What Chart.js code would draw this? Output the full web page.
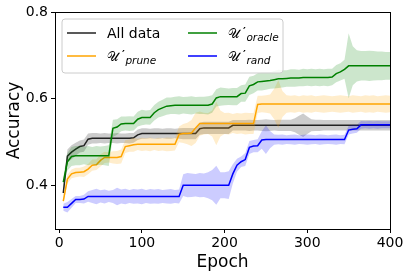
<!DOCTYPE html>
<html>
<head>
<meta charset="utf-8">
<script src="https://cdn.jsdelivr.net/npm/chart.js@4.4.1/dist/chart.umd.min.js"></script>
<style>
  html, body { margin: 0; padding: 0; background: #fff; }
</style>
</head>
<body>
<canvas id="acc" width="410" height="277"></canvas>
<script>
const epochs = [5,10,15,20,25,30,35,40,45,50,55,60,65,70,75,80,85,90,95,100,
  105,110,115,120,125,130,135,140,145,150,155,160,165,170,175,180,185,190,195,200,
  205,210,215,220,225,230,235,240,245,250,255,260,265,270,275,280,285,290,295,300,
  305,310,315,320,325,330,335,340,345,350,355,360,365,370,375,380,385,390,395,400];

const allData = [0.383,0.468,0.477,0.484,0.490,0.492,0.507,0.509,0.509,0.509,0.509,0.509,0.509,0.509,0.509,0.509,0.509,0.510,0.517,0.520,
  0.520,0.520,0.520,0.520,0.520,0.520,0.520,0.520,0.520,0.520,0.520,0.520,0.520,0.531,0.533,0.533,0.533,0.533,0.533,0.533,
  0.533,0.539,0.539,0.539,0.539,0.539,0.539,0.539,0.539,0.539,0.539,0.539,0.539,0.539,0.539,0.539,0.539,0.539,0.539,0.539,
  0.539,0.539,0.539,0.539,0.539,0.539,0.539,0.539,0.539,0.539,0.539,0.539,0.539,0.539,0.539,0.539,0.539,0.539,0.539,0.539];
const allDataStd = [0.010,0.015,0.016,0.015,0.014,0.014,0.013,0.012,0.012,0.011,0.012,0.011,0.011,0.012,0.011,0.011,0.012,0.011,0.012,0.012,
  0.012,0.011,0.012,0.012,0.011,0.012,0.012,0.011,0.012,0.013,0.013,0.013,0.013,0.014,0.014,0.014,0.014,0.014,0.014,0.014,
  0.014,0.012,0.012,0.012,0.012,0.013,0.012,0.012,0.013,0.014,0.013,0.012,0.013,0.013,0.013,0.013,0.016,0.022,0.027,0.020,
  0.014,0.013,0.013,0.012,0.012,0.012,0.012,0.012,0.012,0.012,0.012,0.012,0.012,0.012,0.012,0.012,0.012,0.012,0.012,0.012];

const prune = [0.364,0.415,0.427,0.430,0.431,0.432,0.438,0.447,0.448,0.458,0.465,0.465,0.465,0.465,0.467,0.490,0.492,0.494,0.495,0.495,
  0.495,0.495,0.495,0.495,0.495,0.495,0.495,0.495,0.518,0.520,0.520,0.521,0.533,0.543,0.543,0.543,0.543,0.543,0.543,0.543,
  0.543,0.543,0.543,0.543,0.543,0.543,0.543,0.587,0.588,0.588,0.588,0.588,0.588,0.588,0.588,0.588,0.588,0.588,0.588,0.588,
  0.588,0.588,0.588,0.588,0.588,0.588,0.588,0.588,0.588,0.588,0.588,0.588,0.588,0.588,0.588,0.588,0.588,0.588,0.588,0.588];
const pruneStd = [0.006,0.010,0.010,0.011,0.010,0.012,0.012,0.013,0.012,0.014,0.013,0.012,0.014,0.015,0.016,0.015,0.014,0.016,0.013,0.015,
  0.014,0.016,0.013,0.015,0.014,0.016,0.015,0.014,0.018,0.022,0.025,0.030,0.035,0.028,0.025,0.024,0.030,0.050,0.030,0.024,
  0.025,0.022,0.024,0.023,0.025,0.024,0.024,0.020,0.019,0.020,0.022,0.035,0.055,0.030,0.020,0.019,0.020,0.018,0.020,0.019,
  0.020,0.018,0.019,0.020,0.019,0.018,0.019,0.020,0.019,0.018,0.020,0.019,0.018,0.020,0.019,0.020,0.018,0.019,0.020,0.019];

const oracle = [0.408,0.455,0.467,0.469,0.469,0.469,0.469,0.469,0.469,0.469,0.469,0.469,0.532,0.535,0.542,0.543,0.543,0.543,0.553,0.557,
  0.557,0.557,0.568,0.575,0.579,0.583,0.584,0.585,0.585,0.585,0.585,0.585,0.585,0.585,0.585,0.585,0.588,0.602,0.605,0.605,
  0.605,0.605,0.605,0.612,0.613,0.630,0.633,0.639,0.640,0.641,0.642,0.644,0.646,0.646,0.647,0.648,0.648,0.648,0.649,0.649,
  0.649,0.649,0.649,0.649,0.649,0.650,0.658,0.662,0.668,0.676,0.676,0.676,0.676,0.676,0.676,0.676,0.676,0.676,0.676,0.676];
const oracleStd = [0.012,0.020,0.022,0.022,0.022,0.020,0.022,0.020,0.022,0.021,0.022,0.024,0.020,0.018,0.017,0.016,0.017,0.016,0.017,0.018,
  0.016,0.017,0.018,0.018,0.019,0.020,0.019,0.020,0.021,0.019,0.020,0.021,0.019,0.020,0.020,0.021,0.020,0.020,0.021,0.020,
  0.019,0.020,0.020,0.019,0.020,0.021,0.020,0.020,0.021,0.020,0.019,0.020,0.021,0.020,0.019,0.020,0.020,0.019,0.020,0.019,
  0.020,0.019,0.020,0.019,0.020,0.019,0.020,0.020,0.022,0.075,0.045,0.036,0.034,0.034,0.035,0.034,0.033,0.033,0.032,0.032];

const rand = [0.350,0.350,0.359,0.368,0.368,0.369,0.375,0.375,0.375,0.375,0.375,0.375,0.375,0.375,0.375,0.375,0.375,0.375,0.375,0.375,
  0.375,0.375,0.375,0.375,0.375,0.375,0.375,0.375,0.375,0.401,0.401,0.401,0.401,0.401,0.401,0.401,0.401,0.401,0.401,0.401,
  0.401,0.427,0.447,0.455,0.460,0.488,0.491,0.492,0.505,0.506,0.506,0.506,0.506,0.506,0.506,0.506,0.506,0.506,0.506,0.506,
  0.506,0.506,0.506,0.506,0.506,0.506,0.506,0.506,0.506,0.528,0.530,0.531,0.540,0.540,0.540,0.540,0.540,0.540,0.540,0.540];
const randStd = [0.008,0.012,0.010,0.008,0.008,0.010,0.012,0.015,0.018,0.014,0.016,0.013,0.015,0.020,0.016,0.018,0.015,0.017,0.016,0.018,
  0.015,0.017,0.016,0.017,0.015,0.016,0.017,0.015,0.016,0.025,0.028,0.027,0.026,0.028,0.027,0.030,0.035,0.045,0.030,0.030,
  0.032,0.022,0.015,0.012,0.015,0.015,0.014,0.015,0.020,0.033,0.020,0.012,0.011,0.012,0.010,0.011,0.012,0.010,0.011,0.012,
  0.011,0.010,0.012,0.011,0.010,0.011,0.012,0.010,0.011,0.010,0.010,0.009,0.009,0.008,0.009,0.008,0.009,0.008,0.008,0.008];

const xTicks = [0, 100, 200, 300, 400];
const yTicks = [0.4, 0.6, 0.8];

// matplotlib ncol=2 fills column by column
const legendItems = [
  { color: '#222222', main: 'All data', sub: '' },
  { color: '#ffa500', main: '\u{1D4B0}', sub: 'prune' },
  { color: '#008000', main: '\u{1D4B0}', sub: 'oracle' },
  { color: '#0000ff', main: '\u{1D4B0}', sub: 'rand' },
];

function pts(vals, off, sign) {
  return epochs.map((e, i) => ({ x: e, y: vals[i] + (off ? sign * off[i] : 0) }));
}

function group(mean, std, line, band, ord) {
  return [
    { data: pts(mean, std, 1), borderWidth: 0, pointRadius: 0, backgroundColor: band, fill: '+1', order: ord + 1 },
    { data: pts(mean, std, -1), borderWidth: 0, pointRadius: 0, fill: false, order: ord + 1 },
    { data: pts(mean), borderColor: line, borderWidth: 1.5, pointRadius: 0, fill: false, order: ord },
  ];
}

const frame = {
  id: 'frame',
  afterDatasetsDraw(chart) {
    const a = chart.chartArea, c = chart.ctx;
    c.save();
    c.strokeStyle = '#000';
    c.lineWidth = 1;
    c.strokeRect(Math.round(a.left) + 0.5, Math.round(a.top) + 0.5, Math.round(a.right - a.left), Math.round(a.bottom - a.top));
    c.restore();
  }
};

const boxLegend = {
  id: 'boxLegend',
  afterDraw(chart) {
    const c = chart.ctx;
    c.save();
    const bx = 62, by = 19, bw = 221, bh = 54, r = 3;
    c.beginPath();
    c.moveTo(bx + r, by);
    c.arcTo(bx + bw, by, bx + bw, by + bh, r);
    c.arcTo(bx + bw, by + bh, bx, by + bh, r);
    c.arcTo(bx, by + bh, bx, by, r);
    c.arcTo(bx, by, bx + bw, by, r);
    c.closePath();
    c.fillStyle = 'rgba(255,255,255,0.8)';
    c.fill();
    c.strokeStyle = '#cccccc';
    c.lineWidth = 1;
    c.stroke();
    const cols = [67, 188], rows = [33, 56];
    legendItems.forEach((it, i) => {
      const lx = cols[Math.floor(i / 2)], ly = rows[i % 2];
      c.strokeStyle = it.color;
      c.lineWidth = 1.5;
      c.beginPath();
      c.moveTo(lx, ly);
      c.lineTo(lx + 29, ly);
      c.stroke();
      c.fillStyle = '#000';
      c.textBaseline = 'alphabetic';
      c.textAlign = 'left';
      const tx = lx + 40;
      if (!it.sub) {
        c.font = "14px 'DejaVu Sans'";
        c.fillText(it.main, tx, ly + 5);
        return;
      }
      c.font = "13px 'DejaVu Sans'";
      c.fillText(it.main, tx, ly + 5);
      let w = c.measureText(it.main).width;
      // prime mark, placed past the glyph's overhanging tail
      c.font = "bold 11px 'DejaVu Sans'";
      c.fillText('\u2032', tx + w + 3, ly + 2);
      w += c.measureText('\u2032').width + 3.5;
      c.font = "italic 10.5px 'DejaVu Sans'";
      c.fillText(it.sub, tx + w, ly + 8);
    });
    c.restore();
  }
};

new Chart(document.getElementById('acc'), {
  type: 'line',
  data: {
    datasets: [
      ...group(allData, allDataStd, '#222222', 'rgba(0,0,0,0.2)', 7),
      ...group(prune, pruneStd, '#ffa500', 'rgba(255,165,0,0.2)', 5),
      ...group(oracle, oracleStd, '#008000', 'rgba(0,128,0,0.2)', 3),
      ...group(rand, randStd, '#0000ff', 'rgba(0,0,255,0.2)', 1),
    ]
  },
  options: {
    responsive: false,
    animation: false,
    devicePixelRatio: 1,
    layout: { padding: { top: 12, right: 20, left: 0, bottom: 0 } },
    elements: { line: { tension: 0 } },
    plugins: { legend: { display: false }, tooltip: { enabled: false } },
    scales: {
      x: {
        type: 'linear',
        min: -5,
        max: 400,
        afterBuildTicks: s => { s.ticks = xTicks.map(v => ({ value: v })); },
        afterFit: s => { s.height = 48; },
        grid: { drawOnChartArea: false, drawTicks: true, tickLength: 4, color: '#000' },
        border: { display: true, color: '#000' },
        ticks: { color: '#000', padding: 2, maxRotation: 0, font: { family: 'DejaVu Sans', size: 14 } },
        title: { display: true, text: 'Epoch', color: '#000', padding: { top: 0, bottom: 4 }, font: { family: 'DejaVu Sans', size: 17 } }
      },
      y: {
        min: 0.3,
        max: 0.8,
        afterBuildTicks: s => { s.ticks = yTicks.map(v => ({ value: v })); },
        afterFit: s => { s.width = 55; },
        grid: { drawOnChartArea: false, drawTicks: true, tickLength: 4, color: '#000' },
        border: { display: true, color: '#000' },
        ticks: { color: '#000', padding: 3, font: { family: 'DejaVu Sans', size: 14 }, callback: v => v.toFixed(1) },
        title: { display: true, text: 'Accuracy', color: '#000', padding: { top: 4, bottom: 0 }, font: { family: 'DejaVu Sans', size: 17 } }
      }
    }
  },
  plugins: [frame, boxLegend]
});
</script>
</body>
</html>
